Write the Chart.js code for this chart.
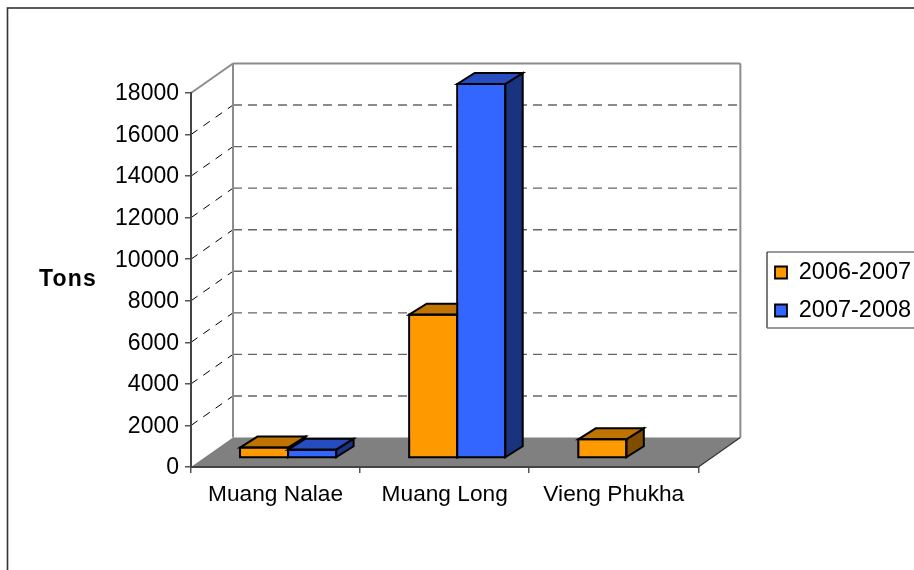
<!DOCTYPE html>
<html>
<head>
<meta charset="utf-8">
<style>html,body{margin:0;padding:0;background:#fff}canvas{display:block}</style>
<script src="https://cdn.jsdelivr.net/npm/chart.js@4"></script>
</head>
<body>
<canvas id="c" width="914" height="570"></canvas>
<script>
const categories = ['Muang Nalae', 'Muang Long', 'Vieng Phukha'];
const series2006 = [500, 6900, 900];
const series2007 = [400, 18000, null];
const seriesNames = ['2006-2007', '2007-2008'];
const yMax = 18000;
const yStep = 2000;

const FONT = '"Liberation Sans", Arial, sans-serif';
// Depth of the box the plot sits in, and of each bar inside it.
const WALL_DX = 42, WALL_DY = -29.5;
const BAR_SHIFT_X = 12.5, BAR_SHIFT_Y = -9;
const BAR_DX = 17.5, BAR_DY = -11;
const shades = [
  {top: '#BF7300', side: '#7F4C00'},
  {top: '#264CBF', side: '#19337F'}
];

function poly(ctx, pts, fill, stroke, width) {
  ctx.beginPath();
  pts.forEach((p, i) => i ? ctx.lineTo(p[0], p[1]) : ctx.moveTo(p[0], p[1]));
  ctx.closePath();
  if (fill) { ctx.fillStyle = fill; ctx.fill(); }
  if (stroke) { ctx.strokeStyle = stroke; ctx.lineWidth = width; ctx.stroke(); }
}
function line(ctx, x1, y1, x2, y2, color, width, dash) {
  ctx.beginPath();
  ctx.setLineDash(dash || []);
  ctx.moveTo(x1, y1);
  ctx.lineTo(x2, y2);
  ctx.strokeStyle = color;
  ctx.lineWidth = width;
  ctx.stroke();
  ctx.setLineDash([]);
}

const box3d = {
  id: 'box3d',
  afterLayout(chart) {
    // The legend sits apart from the plot, against the right edge.
    chart.legend.left = 760.5;
    chart.legend.right = 914;
    chart.legend.top -= 80;
  },
  beforeDraw(chart) {
    const {ctx, chartArea: a, scales: {y}} = chart;
    const bx = a.left + WALL_DX, by = WALL_DY;
    ctx.save();
    // outer frame
    ctx.strokeStyle = '#333';
    ctx.lineWidth = 1.6;
    ctx.strokeRect(7.5, 8, 1000, 1000);
    // floor
    poly(ctx, [[a.left, a.bottom], [a.right, a.bottom], [a.right + WALL_DX, a.bottom + by], [bx, a.bottom + by]], '#808080');
    // dashed grid on side and back walls
    for (let v = yStep; v < yMax; v += yStep) {
      const py = y.getPixelForValue(v);
      line(ctx, a.left, py, bx, py + by, '#000', 1, [8, 7]);
      line(ctx, bx, py + by, a.right + WALL_DX, py + by, '#666', 1.4, [9, 6]);
    }
    // wall outlines
    const wall = '#8c8c8c';
    line(ctx, a.left, a.top, bx, a.top + by, wall, 2);
    line(ctx, bx, a.top + by, a.right + WALL_DX, a.top + by, wall, 2);
    line(ctx, bx, a.top + by, bx, a.bottom + by, wall, 2);
    line(ctx, a.right + WALL_DX, a.top + by, a.right + WALL_DX, a.bottom + by, wall, 2);
    line(ctx, a.right, a.bottom, a.right + WALL_DX, a.bottom + by, '#333', 1.2);
    ctx.restore();
  },
  // Bars are painted left to right so each one overlaps its left neighbour.
  beforeDatasetsDraw(chart) {
    const {ctx} = chart;
    ctx.save();
    ctx.translate(BAR_SHIFT_X, BAR_SHIFT_Y);
    ctx.lineJoin = 'miter';
    chart.data.datasets.forEach((ds, d) => {
      chart.getDatasetMeta(d).data.forEach((bar, i) => {
        if (ds.data[i] == null) return;
        const l = bar.x - bar.width / 2, r = bar.x + bar.width / 2;
        const t = bar.y, b = bar.base;
        poly(ctx, [[r, t], [r + BAR_DX, t + BAR_DY], [r + BAR_DX, b + BAR_DY], [r, b]], shades[d].side, '#000', 2);
        poly(ctx, [[l, t], [l + BAR_DX, t + BAR_DY], [r + BAR_DX, t + BAR_DY], [r, t]], shades[d].top, '#000', 2);
        bar.draw(ctx);
        ctx.strokeStyle = '#000';
        ctx.lineWidth = 2;
        ctx.strokeRect(l, t, bar.width, b - t);
      });
    });
    ctx.restore();
    return false;
  },
  afterDraw(chart) {
    const {ctx} = chart;
    ctx.save();
    // axis caption, set horizontally beside the value axis
    ctx.fillStyle = '#000';
    ctx.font = 'bold 23px ' + FONT;
    ctx.letterSpacing = '1.2px';
    ctx.textAlign = 'left';
    ctx.textBaseline = 'alphabetic';
    ctx.fillText('Tons', 39, 286);
    ctx.letterSpacing = '0px';
    // legend frame
    line(ctx, 767, 252, 914, 252, '#777', 1.5);
    line(ctx, 767, 252, 767, 328, '#222', 1.2);
    line(ctx, 767, 328, 914, 328, '#777', 1.5);
    ctx.restore();
  }
};

new Chart(document.getElementById('c'), {
  type: 'bar',
  data: {
    labels: categories,
    datasets: [
      {label: seriesNames[0], data: series2006, backgroundColor: '#FF9900', borderColor: '#000', borderWidth: 1},
      {label: seriesNames[1], data: series2007, backgroundColor: '#3366FF', borderColor: '#000', borderWidth: 1}
    ]
  },
  plugins: [box3d],
  options: {
    responsive: false,
    animation: false,
    layout: {padding: {top: 93, left: 0, right: 55, bottom: 0}},
    categoryPercentage: 96 / 169,
    barPercentage: 1,
    plugins: {
      tooltip: {enabled: false},
      legend: {
        position: 'right',
        labels: {
          color: '#000',
          font: {family: FONT, size: 23.5},
          boxWidth: 12,
          boxHeight: 12,
          padding: 14.5,
          generateLabels(chart) {
            const items = Chart.defaults.plugins.legend.labels.generateLabels(chart);
            items.forEach(it => { it.lineWidth = 1.8; });
            return items;
          }
        }
      }
    },
    scales: {
      x: {
        afterFit(s) { s.height = 103; },
        grid: {drawOnChartArea: false, drawTicks: true, tickLength: 6, tickColor: '#555', lineWidth: 1.5},
        border: {color: '#444', width: 2},
        ticks: {color: '#000', font: {family: FONT, size: 22.7}, padding: 8, maxRotation: 0, autoSkip: false}
      },
      y: {
        min: 0,
        max: yMax,
        afterFit(s) { s.width = 191; },
        grid: {drawOnChartArea: false, drawTicks: true, tickLength: 6, tickColor: '#555', lineWidth: 1.5},
        border: {color: '#444', width: 2},
        ticks: {color: '#000', font: {family: FONT, size: 23}, padding: 6, labelOffset: 1, stepSize: yStep, autoSkip: false, callback: v => String(v)}
      }
    }
  }
});
</script>
</body>
</html>
